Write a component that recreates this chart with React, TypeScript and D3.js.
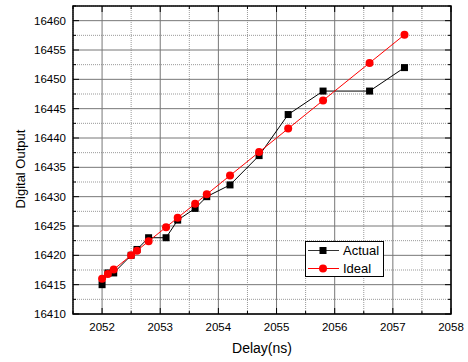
import React from "react";
import * as d3 from "d3";

const delays = [2052, 2052.1, 2052.2, 2052.5, 2052.6, 2052.8, 2053.1, 2053.3, 2053.6, 2053.8, 2054.2, 2054.7, 2055.2, 2055.8, 2056.6, 2057.2];
const actual = [16415, 16417, 16417, 16420, 16421, 16423, 16423, 16426, 16428, 16430, 16432, 16437, 16444, 16448, 16448, 16452];
const ideal = [16416, 16416.8, 16417.6, 16420, 16420.8, 16422.4, 16424.8, 16426.4, 16428.8, 16430.4, 16433.6, 16437.6, 16441.6, 16446.4, 16452.8, 16457.6];
const xTicks = [2052, 2053, 2054, 2055, 2056, 2057, 2058];
const yTicks = [16410, 16415, 16420, 16425, 16430, 16435, 16440, 16445, 16450, 16455, 16460];

export default function App() {
  const W = 468, H = 362;
  const L = 73, R = 451, T = 6, B = 314;
  const x = d3.scaleLinear().domain([2051.5, 2058]).range([L, R]);
  const y = d3.scaleLinear().domain([16410, 16462.5]).range([B, T]);
  const xMinor = d3.range(2051.5, 2058.01, 0.5).filter((v) => !xTicks.includes(v));
  const yMinor = d3.range(16412.5, 16462.51, 5);
  const actualPath = d3.line<number>().x((_, i) => x(delays[i])).y((d) => y(d))(actual) || "";
  const idealPath = d3.line<number>().x((_, i) => x(delays[i])).y((d) => y(d))(ideal) || "";
  const font = "Liberation Sans, Arial, sans-serif";
  return (
    <svg width={W} height={H} style={{ position: "absolute", left: 0, top: 0, background: "#fff" }} fontFamily={font}>
      {xMinor.map((v) => (
        <line key={"xm" + v} x1={x(v)} x2={x(v)} y1={T} y2={B} stroke="#999" strokeWidth={1} strokeDasharray="1,1" />
      ))}
      {yMinor.map((v) => (
        <line key={"ym" + v} x1={L} x2={R} y1={y(v)} y2={y(v)} stroke="#999" strokeWidth={1} strokeDasharray="1,1" />
      ))}
      {xTicks.map((v) => (
        <line key={"xg" + v} x1={x(v)} x2={x(v)} y1={T} y2={B} stroke="#777" strokeWidth={1} />
      ))}
      {yTicks.map((v) => (
        <line key={"yg" + v} x1={L} x2={R} y1={y(v)} y2={y(v)} stroke="#777" strokeWidth={1} />
      ))}
      {xTicks.map((v) => (
        <g key={"xt" + v}>
          <line x1={x(v)} x2={x(v)} y1={B} y2={B - 6} stroke="#000" strokeWidth={1} />
          <line x1={x(v)} x2={x(v)} y1={T} y2={T + 6} stroke="#000" strokeWidth={1} />
          <text x={x(v)} y={B + 17} fontSize={11.5} textAnchor="middle">{v}</text>
        </g>
      ))}
      {xMinor.map((v) => (
        <g key={"xmt" + v}>
          <line x1={x(v)} x2={x(v)} y1={B} y2={B - 3} stroke="#000" strokeWidth={1} />
          <line x1={x(v)} x2={x(v)} y1={T} y2={T + 3} stroke="#000" strokeWidth={1} />
        </g>
      ))}
      {yTicks.map((v) => (
        <g key={"yt" + v}>
          <line x1={L} x2={L + 6} y1={y(v)} y2={y(v)} stroke="#000" strokeWidth={1} />
          <line x1={R} x2={R - 6} y1={y(v)} y2={y(v)} stroke="#000" strokeWidth={1} />
          <text x={L - 7} y={y(v) + 4} fontSize={11.5} textAnchor="end">{v}</text>
        </g>
      ))}
      {yMinor.map((v) => (
        <g key={"ymt" + v}>
          <line x1={L} x2={L + 3} y1={y(v)} y2={y(v)} stroke="#000" strokeWidth={1} />
          <line x1={R} x2={R - 3} y1={y(v)} y2={y(v)} stroke="#000" strokeWidth={1} />
        </g>
      ))}
      <rect x={L} y={T} width={R - L} height={B - T} fill="none" stroke="#000" strokeWidth={1.5} />
      <path d={actualPath} fill="none" stroke="#000" strokeWidth={1} />
      {actual.map((v, i) => (
        <rect key={"a" + i} x={x(delays[i]) - 3.5} y={y(v) - 3.5} width={7} height={7} fill="#000" />
      ))}
      <path d={idealPath} fill="none" stroke="#ff0000" strokeWidth={1} />
      {ideal.map((v, i) => (
        <circle key={"i" + i} cx={x(delays[i])} cy={y(v)} r={4} fill="#ff0000" />
      ))}
      <rect x={305.5} y={241.5} width={78} height={35} fill="#fff" stroke="#000" strokeWidth={1} />
      <line x1={308} x2={339} y1={250.5} y2={250.5} stroke="#333" strokeWidth={1} />
      <rect x={323 - 3.5} y={250.5 - 3.5} width={7} height={7} fill="#000" />
      <text x={343} y={255} fontSize={13}>Actual</text>
      <line x1={308} x2={339} y1={268.5} y2={268.5} stroke="#ff0000" strokeWidth={1} />
      <circle cx={323} cy={268.5} r={4} fill="#ff0000" />
      <text x={343} y={273} fontSize={13}>Ideal</text>
      <text x={(L + R) / 2} y={353} fontSize={14} textAnchor="middle">Delay(ns)</text>
      <text transform="translate(25, 169) rotate(-90)" fontSize={13} textAnchor="middle">Digital Output</text>
    </svg>
  );
}
